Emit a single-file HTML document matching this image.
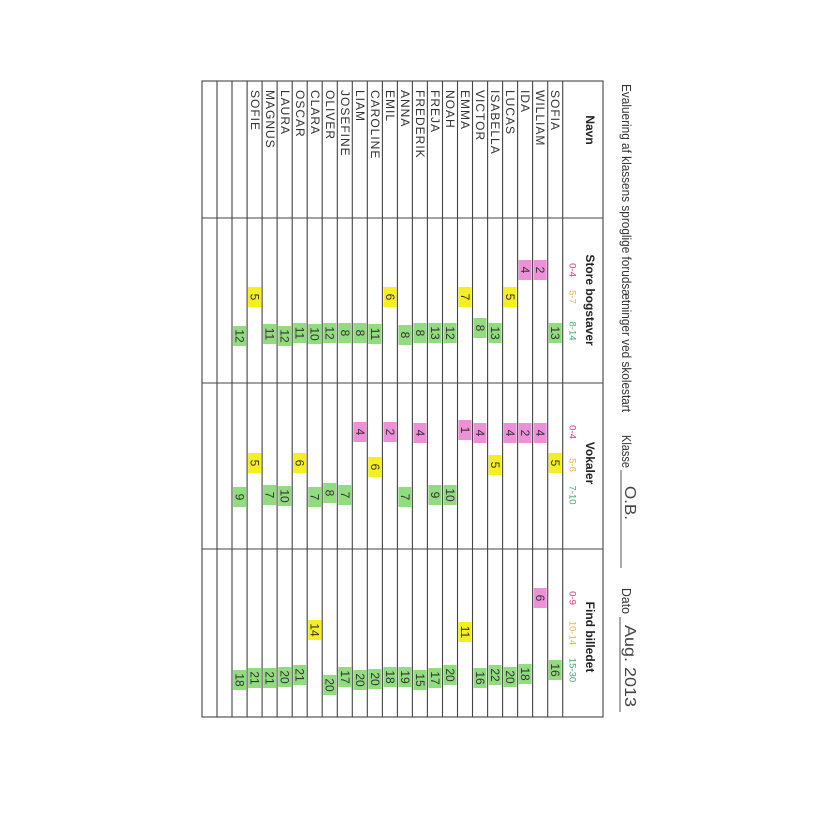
<!DOCTYPE html>
<html><head><meta charset="utf-8"><style>
body{margin:0;background:#fff}
svg{display:block}
text{font-family:"Liberation Sans",sans-serif}
.n{font-size:12px;fill:#333;letter-spacing:1px}
.s{font-size:12px;fill:#333}
.p{fill:#ec90d8}.y{fill:#f5ef22}.g{fill:#92dc80}
</style></head><body>
<svg width="827" height="827" viewBox="0 0 827 827" xmlns="http://www.w3.org/2000/svg">
<defs>
<rect id="b" x="-6.5" y="-10" width="13" height="20"/>
</defs>
<g stroke="#444" stroke-width="1.1" fill="none">
<rect x="202" y="81" width="401" height="636"/>
<line x1="202" y1="218" x2="603" y2="218"/>
<line x1="202" y1="383" x2="603" y2="383"/>
<line x1="202" y1="549" x2="603" y2="549"/>
<line x1="217" y1="81" x2="217" y2="717"/><line x1="232" y1="81" x2="232" y2="717"/>
<line x1="247.1" y1="81" x2="247.1" y2="717"/><line x1="262.1" y1="81" x2="262.1" y2="717"/>
<line x1="277.1" y1="81" x2="277.1" y2="717"/><line x1="292.2" y1="81" x2="292.2" y2="717"/>
<line x1="307.2" y1="81" x2="307.2" y2="717"/><line x1="322.2" y1="81" x2="322.2" y2="717"/>
<line x1="337.3" y1="81" x2="337.3" y2="717"/><line x1="352.3" y1="81" x2="352.3" y2="717"/>
<line x1="367.3" y1="81" x2="367.3" y2="717"/><line x1="382.4" y1="81" x2="382.4" y2="717"/>
<line x1="397.4" y1="81" x2="397.4" y2="717"/><line x1="412.4" y1="81" x2="412.4" y2="717"/>
<line x1="427.4" y1="81" x2="427.4" y2="717"/><line x1="442.5" y1="81" x2="442.5" y2="717"/>
<line x1="457.5" y1="81" x2="457.5" y2="717"/><line x1="472.5" y1="81" x2="472.5" y2="717"/>
<line x1="487.6" y1="81" x2="487.6" y2="717"/><line x1="502.6" y1="81" x2="502.6" y2="717"/>
<line x1="517.6" y1="81" x2="517.6" y2="717"/><line x1="532.6" y1="81" x2="532.6" y2="717"/>
<line x1="547.7" y1="81" x2="547.7" y2="717"/><line x1="562.7" y1="81" x2="562.7" y2="717"/>
</g>
<text transform="translate(622,84) rotate(90)" textLength="328" lengthAdjust="spacingAndGlyphs" style="font-size:12.5px;fill:#333">Evaluering af klassens sproglige forudsætninger ved skolestart</text>
<text transform="translate(622,435) rotate(90)" textLength="33" lengthAdjust="spacingAndGlyphs" style="font-size:12.5px;fill:#333">Klasse</text>
<line x1="621" y1="470" x2="621" y2="568" stroke="#555"/>
<text transform="translate(625,486) rotate(90)" textLength="34" lengthAdjust="spacingAndGlyphs" style="font-size:16px;fill:#444">O.B.</text>
<text transform="translate(622,588) rotate(90)" textLength="26" lengthAdjust="spacingAndGlyphs" style="font-size:12.5px;fill:#333">Dato</text>
<line x1="620" y1="617" x2="620" y2="712" stroke="#555"/>
<text transform="translate(625,625) rotate(90)" textLength="82" lengthAdjust="spacingAndGlyphs" style="font-size:16px;fill:#444">Aug. 2013</text>
<g style="font-size:12px;font-weight:bold;fill:#222" text-anchor="middle">
<text transform="translate(590,130) rotate(90)" dominant-baseline="central">Navn</text>
<text transform="translate(590,300) rotate(90)" dominant-baseline="central">Store bogstaver</text>
<text transform="translate(590,463) rotate(90)" dominant-baseline="central">Vokaler</text>
<text transform="translate(590,637) rotate(90)" dominant-baseline="central">Find billedet</text>
</g>
<g style="font-size:9.5px" text-anchor="middle">
<text transform="translate(572,270) rotate(90)" dominant-baseline="central" fill="#e0308a">0-4</text>
<text transform="translate(572,297) rotate(90)" dominant-baseline="central" fill="#f0b050">5-7</text>
<text transform="translate(572,331) rotate(90)" dominant-baseline="central" fill="#3aa870">8-14</text>
<text transform="translate(572,432) rotate(90)" dominant-baseline="central" fill="#e0308a">0-4</text>
<text transform="translate(572,465) rotate(90)" dominant-baseline="central" fill="#f0b050">5-6</text>
<text transform="translate(572,495) rotate(90)" dominant-baseline="central" fill="#3aa870">7-10</text>
<text transform="translate(572,598) rotate(90)" dominant-baseline="central" fill="#e0308a">0-9</text>
<text transform="translate(572,633) rotate(90)" dominant-baseline="central" fill="#f0b050">10-14</text>
<text transform="translate(572,670) rotate(90)" dominant-baseline="central" fill="#3aa870">15-30</text>
</g>
<g class="n">
<text transform="translate(551,90) rotate(90)">SOFIA</text>
<text transform="translate(536,90) rotate(90)">WILLIAM</text>
<text transform="translate(521,90) rotate(90)">IDA</text>
<text transform="translate(506,90) rotate(90)">LUCAS</text>
<text transform="translate(491,90) rotate(90)">ISABELLA</text>
<text transform="translate(476,90) rotate(90)">VICTOR</text>
<text transform="translate(461,90) rotate(90)">EMMA</text>
<text transform="translate(446,90) rotate(90)">NOAH</text>
<text transform="translate(431,90) rotate(90)">FREJA</text>
<text transform="translate(416,90) rotate(90)">FREDERIK</text>
<text transform="translate(401,90) rotate(90)">ANNA</text>
<text transform="translate(386,90) rotate(90)">EMIL</text>
<text transform="translate(371,90) rotate(90)">CAROLINE</text>
<text transform="translate(356,90) rotate(90)">LIAM</text>
<text transform="translate(341,90) rotate(90)">JOSEFINE</text>
<text transform="translate(326,90) rotate(90)">OLIVER</text>
<text transform="translate(311,90) rotate(90)">CLARA</text>
<text transform="translate(296,90) rotate(90)">OSCAR</text>
<text transform="translate(281,90) rotate(90)">LAURA</text>
<text transform="translate(266,90) rotate(90)">MAGNUS</text>
<text transform="translate(251,90) rotate(90)">SOFIE</text>
</g>
<g class="s" text-anchor="middle">
<g transform="translate(555.2,333)"><use href="#b" class="g"/><text transform="rotate(90)" dominant-baseline="central">13</text></g>
<g transform="translate(540.2,270)"><use href="#b" class="p"/><text transform="rotate(90)" dominant-baseline="central">2</text></g>
<g transform="translate(525.1,270)"><use href="#b" class="p"/><text transform="rotate(90)" dominant-baseline="central">4</text></g>
<g transform="translate(510.1,297)"><use href="#b" class="y"/><text transform="rotate(90)" dominant-baseline="central">5</text></g>
<g transform="translate(495.1,333)"><use href="#b" class="g"/><text transform="rotate(90)" dominant-baseline="central">13</text></g>
<g transform="translate(480,328)"><use href="#b" class="g"/><text transform="rotate(90)" dominant-baseline="central">8</text></g>
<g transform="translate(465,297)"><use href="#b" class="y"/><text transform="rotate(90)" dominant-baseline="central">7</text></g>
<g transform="translate(450,333)"><use href="#b" class="g"/><text transform="rotate(90)" dominant-baseline="central">12</text></g>
<g transform="translate(434.9,333)"><use href="#b" class="g"/><text transform="rotate(90)" dominant-baseline="central">13</text></g>
<g transform="translate(419.9,333)"><use href="#b" class="g"/><text transform="rotate(90)" dominant-baseline="central">8</text></g>
<g transform="translate(404.9,335)"><use href="#b" class="g"/><text transform="rotate(90)" dominant-baseline="central">8</text></g>
<g transform="translate(389.9,297)"><use href="#b" class="y"/><text transform="rotate(90)" dominant-baseline="central">6</text></g>
<g transform="translate(374.8,334)"><use href="#b" class="g"/><text transform="rotate(90)" dominant-baseline="central">11</text></g>
<g transform="translate(359.8,333)"><use href="#b" class="g"/><text transform="rotate(90)" dominant-baseline="central">8</text></g>
<g transform="translate(344.8,333)"><use href="#b" class="g"/><text transform="rotate(90)" dominant-baseline="central">8</text></g>
<g transform="translate(329.7,333)"><use href="#b" class="g"/><text transform="rotate(90)" dominant-baseline="central">12</text></g>
<g transform="translate(314.7,334)"><use href="#b" class="g"/><text transform="rotate(90)" dominant-baseline="central">10</text></g>
<g transform="translate(299.7,333)"><use href="#b" class="g"/><text transform="rotate(90)" dominant-baseline="central">11</text></g>
<g transform="translate(284.7,336)"><use href="#b" class="g"/><text transform="rotate(90)" dominant-baseline="central">12</text></g>
<g transform="translate(269.6,334)"><use href="#b" class="g"/><text transform="rotate(90)" dominant-baseline="central">11</text></g>
<g transform="translate(254.6,297)"><use href="#b" class="y"/><text transform="rotate(90)" dominant-baseline="central">5</text></g>
<g transform="translate(239.6,336)"><use href="#b" class="g"/><text transform="rotate(90)" dominant-baseline="central">12</text></g>
<g transform="translate(555.2,463)"><use href="#b" class="y"/><text transform="rotate(90)" dominant-baseline="central">5</text></g>
<g transform="translate(540.2,433)"><use href="#b" class="p"/><text transform="rotate(90)" dominant-baseline="central">4</text></g>
<g transform="translate(525.1,433)"><use href="#b" class="p"/><text transform="rotate(90)" dominant-baseline="central">2</text></g>
<g transform="translate(510.1,433)"><use href="#b" class="p"/><text transform="rotate(90)" dominant-baseline="central">4</text></g>
<g transform="translate(495.1,465)"><use href="#b" class="y"/><text transform="rotate(90)" dominant-baseline="central">5</text></g>
<g transform="translate(480,433)"><use href="#b" class="p"/><text transform="rotate(90)" dominant-baseline="central">4</text></g>
<g transform="translate(465,430)"><use href="#b" class="p"/><text transform="rotate(90)" dominant-baseline="central">1</text></g>
<g transform="translate(450,495)"><use href="#b" class="g"/><text transform="rotate(90)" dominant-baseline="central">10</text></g>
<g transform="translate(434.9,495)"><use href="#b" class="g"/><text transform="rotate(90)" dominant-baseline="central">9</text></g>
<g transform="translate(419.9,433)"><use href="#b" class="p"/><text transform="rotate(90)" dominant-baseline="central">4</text></g>
<g transform="translate(404.9,497)"><use href="#b" class="g"/><text transform="rotate(90)" dominant-baseline="central">7</text></g>
<g transform="translate(389.9,432)"><use href="#b" class="p"/><text transform="rotate(90)" dominant-baseline="central">2</text></g>
<g transform="translate(374.8,467)"><use href="#b" class="y"/><text transform="rotate(90)" dominant-baseline="central">6</text></g>
<g transform="translate(359.8,432)"><use href="#b" class="p"/><text transform="rotate(90)" dominant-baseline="central">4</text></g>
<g transform="translate(344.8,495)"><use href="#b" class="g"/><text transform="rotate(90)" dominant-baseline="central">7</text></g>
<g transform="translate(329.7,493)"><use href="#b" class="g"/><text transform="rotate(90)" dominant-baseline="central">8</text></g>
<g transform="translate(314.7,497)"><use href="#b" class="g"/><text transform="rotate(90)" dominant-baseline="central">7</text></g>
<g transform="translate(299.7,463)"><use href="#b" class="y"/><text transform="rotate(90)" dominant-baseline="central">6</text></g>
<g transform="translate(284.7,496)"><use href="#b" class="g"/><text transform="rotate(90)" dominant-baseline="central">10</text></g>
<g transform="translate(269.6,495)"><use href="#b" class="g"/><text transform="rotate(90)" dominant-baseline="central">7</text></g>
<g transform="translate(254.6,463)"><use href="#b" class="y"/><text transform="rotate(90)" dominant-baseline="central">5</text></g>
<g transform="translate(239.6,497)"><use href="#b" class="g"/><text transform="rotate(90)" dominant-baseline="central">9</text></g>
<g transform="translate(555.2,670)"><use href="#b" class="g"/><text transform="rotate(90)" dominant-baseline="central">16</text></g>
<g transform="translate(540.2,598)"><use href="#b" class="p"/><text transform="rotate(90)" dominant-baseline="central">6</text></g>
<g transform="translate(525.1,674)"><use href="#b" class="g"/><text transform="rotate(90)" dominant-baseline="central">18</text></g>
<g transform="translate(510.1,677)"><use href="#b" class="g"/><text transform="rotate(90)" dominant-baseline="central">20</text></g>
<g transform="translate(495.1,675)"><use href="#b" class="g"/><text transform="rotate(90)" dominant-baseline="central">22</text></g>
<g transform="translate(480,678)"><use href="#b" class="g"/><text transform="rotate(90)" dominant-baseline="central">16</text></g>
<g transform="translate(465,632)"><use href="#b" class="y"/><text transform="rotate(90)" dominant-baseline="central">11</text></g>
<g transform="translate(450,675)"><use href="#b" class="g"/><text transform="rotate(90)" dominant-baseline="central">20</text></g>
<g transform="translate(434.9,678)"><use href="#b" class="g"/><text transform="rotate(90)" dominant-baseline="central">17</text></g>
<g transform="translate(419.9,680)"><use href="#b" class="g"/><text transform="rotate(90)" dominant-baseline="central">15</text></g>
<g transform="translate(404.9,677)"><use href="#b" class="g"/><text transform="rotate(90)" dominant-baseline="central">19</text></g>
<g transform="translate(389.9,677)"><use href="#b" class="g"/><text transform="rotate(90)" dominant-baseline="central">18</text></g>
<g transform="translate(374.8,679)"><use href="#b" class="g"/><text transform="rotate(90)" dominant-baseline="central">20</text></g>
<g transform="translate(359.8,680)"><use href="#b" class="g"/><text transform="rotate(90)" dominant-baseline="central">20</text></g>
<g transform="translate(344.8,677)"><use href="#b" class="g"/><text transform="rotate(90)" dominant-baseline="central">17</text></g>
<g transform="translate(329.7,685)"><use href="#b" class="g"/><text transform="rotate(90)" dominant-baseline="central">20</text></g>
<g transform="translate(314.7,630)"><use href="#b" class="y"/><text transform="rotate(90)" dominant-baseline="central">14</text></g>
<g transform="translate(299.7,675)"><use href="#b" class="g"/><text transform="rotate(90)" dominant-baseline="central">21</text></g>
<g transform="translate(284.7,677)"><use href="#b" class="g"/><text transform="rotate(90)" dominant-baseline="central">20</text></g>
<g transform="translate(269.6,678)"><use href="#b" class="g"/><text transform="rotate(90)" dominant-baseline="central">21</text></g>
<g transform="translate(254.6,678)"><use href="#b" class="g"/><text transform="rotate(90)" dominant-baseline="central">21</text></g>
<g transform="translate(239.6,680)"><use href="#b" class="g"/><text transform="rotate(90)" dominant-baseline="central">18</text></g>
</g>
</svg>
</body></html>
